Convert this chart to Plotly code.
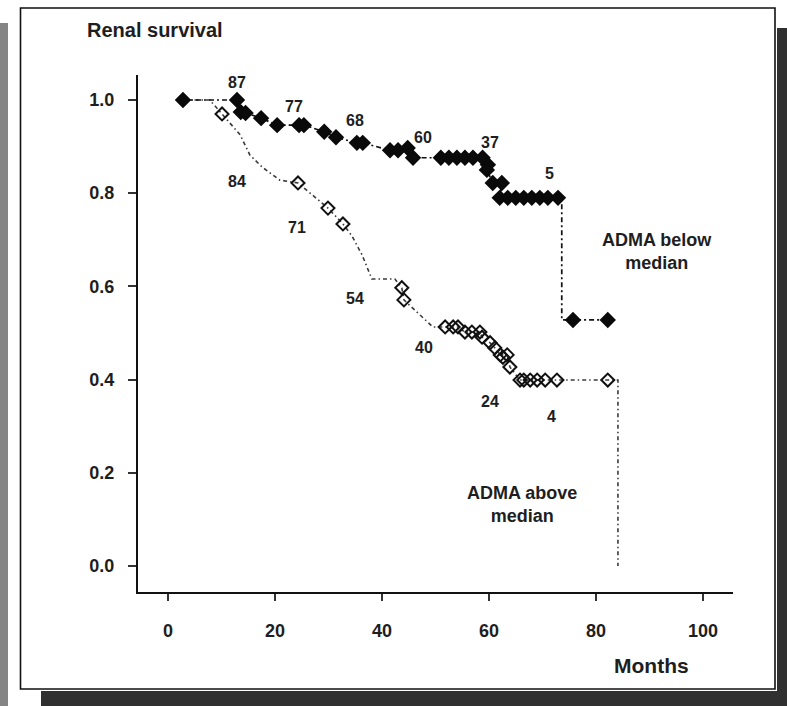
import plotly.graph_objects as go

# ---- Kaplan-Meier style renal survival, split by ADMA median ----
# Curve vertices (months, survival) for the ADMA-below-median group
below_path_months = [2.8, 12.9, 13.6, 14.5, 17.4, 20.4, 24.5, 25.4, 29.2, 31.4, 35.3, 36.4,
                     41.5, 43.0, 44.8, 45.8, 58.8, 59.8, 59.6, 60.7, 62.4, 62.0, 72.9, 73.6,
                     73.6, 75.7, 82.2]
below_path_surv = [1.0, 1.0, 0.974, 0.972, 0.961, 0.946, 0.946, 0.946, 0.932, 0.92, 0.908, 0.908,
                   0.892, 0.892, 0.897, 0.876, 0.876, 0.861, 0.85, 0.822, 0.822, 0.79, 0.79, 0.79,
                   0.528, 0.528, 0.528]

# Marked observations, ADMA below median
below_mark_months = [2.8, 12.9, 13.6, 14.5, 17.4, 20.4, 24.5, 25.4, 29.2, 31.4, 35.3, 36.4,
                     41.5, 43.0, 44.8, 45.8, 51.0, 52.5, 54.0, 55.5, 57.0, 58.8, 59.8, 59.6,
                     60.7, 62.4, 62.0, 63.5, 65.0, 66.5, 68.0, 69.5, 71.0, 72.9, 75.7, 82.2]
below_mark_surv = [1.0, 1.0, 0.974, 0.972, 0.961, 0.946, 0.946, 0.946, 0.932, 0.92, 0.908, 0.908,
                   0.892, 0.892, 0.897, 0.876, 0.876, 0.876, 0.876, 0.876, 0.876, 0.876, 0.861, 0.85,
                   0.822, 0.822, 0.79, 0.79, 0.79, 0.79, 0.79, 0.79, 0.79, 0.79, 0.528, 0.528]

# Curve vertices for the ADMA-above-median group
above_path_months = [2.8, 7.8, 10.1, 13.5, 15.3, 17.6, 20.9, 24.3, 29.9, 32.7, 34.4, 36.3, 38.1,
                     42.4, 43.7, 44.1, 49.5, 51.8, 54.2, 55.5, 58.3, 58.7, 60.2, 61.1, 62.1,
                     63.4, 63.9, 65.8, 82.2, 84.1, 84.1]
above_path_surv = [1.0, 1.0, 0.97, 0.925, 0.882, 0.856, 0.828, 0.822, 0.768, 0.734, 0.708, 0.667,
                   0.616, 0.616, 0.597, 0.571, 0.513, 0.513, 0.513, 0.502, 0.502, 0.491, 0.479,
                   0.468, 0.453, 0.453, 0.427, 0.399, 0.399, 0.399, 0.0]

# Marked observations, ADMA above median
above_mark_months = [10.1, 24.3, 29.9, 32.7, 43.7, 44.1, 51.8, 53.3, 54.2, 55.5, 56.8, 58.3,
                     58.7, 60.2, 61.1, 62.1, 62.6, 63.4, 63.9, 65.8, 66.5, 67.7, 69.0, 70.5,
                     72.7, 82.2]
above_mark_surv = [0.97, 0.822, 0.768, 0.734, 0.597, 0.571, 0.513, 0.513, 0.513, 0.502, 0.502, 0.502,
                   0.491, 0.479, 0.468, 0.453, 0.448, 0.453, 0.427, 0.399, 0.399, 0.399, 0.399, 0.399,
                   0.399, 0.399]

# Numbers at risk and where they are printed
risk_below = ["87", "77", "68", "60", "37", "5"]
risk_below_x = [12.9, 23.6, 35.0, 47.7, 60.2, 71.4]
risk_below_y = [1.06, 1.009, 0.979, 0.942, 0.931, 0.865]
risk_above = ["84", "71", "54", "40", "24", "4"]
risk_above_x = [12.9, 24.1, 35.0, 47.9, 60.2, 71.6]
risk_above_y = [0.848, 0.749, 0.575, 0.468, 0.352, 0.320]

x_ticks = [0, 20, 40, 60, 80, 100]
y_ticks = [0.0, 0.2, 0.4, 0.6, 0.8, 1.0]

X_RANGE = [-5.607, 105.607]
Y_RANGE = [-0.0558, 1.0536]

W, H = 787, 706
ML, MR, MT, MB = 138, 54, 75, 114
PW, PH = W - ML - MR, H - MT - MB

FONT = "Liberation Sans, Arial, Helvetica, sans-serif"
TXT = "#1e1e1e"


def px(xp):
    return (xp - ML) / PW


def py(yp):
    return (H - MB - yp) / PH


def y_to_paper(v):
    # survival value -> paper fraction, so labels above the axis top stay visible
    return (v - Y_RANGE[0]) / (Y_RANGE[1] - Y_RANGE[0])


fig = go.Figure()

fig.add_trace(go.Scatter(
    x=above_path_months, y=above_path_surv, mode="lines",
    line=dict(color="#3a3a3a", width=1.6, dash="4px,3px,1.5px,3px"),
    hoverinfo="skip", showlegend=False))
fig.add_trace(go.Scatter(
    x=below_path_months, y=below_path_surv, mode="lines",
    line=dict(color="#111111", width=1.7, dash="5px,3px,2px,3px"),
    hoverinfo="skip", showlegend=False))
fig.add_trace(go.Scatter(
    x=above_mark_months, y=above_mark_surv, mode="markers",
    marker=dict(symbol="diamond-open", size=10, color="#111111", line=dict(width=2, color="#111111")),
    name="ADMA above median", showlegend=False))
fig.add_trace(go.Scatter(
    x=below_mark_months, y=below_mark_surv, mode="markers",
    marker=dict(symbol="diamond", size=11, color="#0a0a0a", line=dict(width=1.5, color="#0a0a0a")),
    name="ADMA below median", showlegend=False))

ann = []
for t, x, y in zip(risk_below + risk_above, risk_below_x + risk_above_x, risk_below_y + risk_above_y):
    ann.append(dict(x=x, y=y_to_paper(y), xref="x", yref="paper", text=t, showarrow=False,
                    font=dict(family=FONT, size=16, color=TXT, weight="bold")))

ann.append(dict(x=91.4, y=0.674, xref="x", yref="y", text="ADMA below<br>median",
                showarrow=False, align="center",
                font=dict(family=FONT, size=18, color=TXT, weight="bold")))
ann.append(dict(x=66.2, y=0.131, xref="x", yref="y", text="ADMA above<br>median",
                showarrow=False, align="center",
                font=dict(family=FONT, size=18, color=TXT, weight="bold")))
ann.append(dict(x=px(85), y=py(30), xref="paper", yref="paper", xanchor="left", yanchor="middle",
                text="Renal survival", showarrow=False,
                font=dict(family=FONT, size=20, color=TXT, weight="bold")))
ann.append(dict(x=px(612), y=py(665), xref="paper", yref="paper", xanchor="left", yanchor="middle",
                text="Months", showarrow=False,
                font=dict(family=FONT, size=21, color=TXT, weight="bold")))

shapes = [
    # grey strip at the far left
    dict(type="rect", xref="paper", yref="paper", x0=px(0), x1=px(8), y0=py(23), y1=py(706),
         fillcolor="#858585", line=dict(width=0), layer="below"),
    # drop shadow, right and bottom
    dict(type="rect", xref="paper", yref="paper", x0=px(777), x1=px(787), y0=py(28), y1=py(706),
         fillcolor="#303030", line=dict(width=0), layer="below"),
    dict(type="rect", xref="paper", yref="paper", x0=px(41), x1=px(787), y0=py(691), y1=py(706),
         fillcolor="#303030", line=dict(width=0), layer="below"),
    # frame
    dict(type="rect", xref="paper", yref="paper", x0=px(20.5), x1=px(775), y0=py(8), y1=py(689),
         fillcolor="white", line=dict(width=1.6, color="#111111"), layer="below"),
]

fig.update_layout(
    width=W, height=H,
    margin=dict(l=ML, r=MR, t=MT, b=MB, pad=0),
    paper_bgcolor="white", plot_bgcolor="rgba(0,0,0,0)",
    annotations=ann, shapes=shapes, showlegend=False,
    xaxis=dict(range=X_RANGE, tickvals=x_ticks, ticktext=[str(v) for v in x_ticks],
               showgrid=False, zeroline=False, showline=True, linewidth=2.2, linecolor="#111111",
               ticks="outside", ticklen=7, tickwidth=1.5, tickcolor="#333333",
               ticklabelstandoff=14,
               tickfont=dict(family=FONT, size=18, color=TXT, weight="bold"), fixedrange=True),
    yaxis=dict(range=Y_RANGE, tickvals=y_ticks, ticktext=[f"{v:.1f}" for v in y_ticks],
               showgrid=False, zeroline=False, showline=True, linewidth=2.2, linecolor="#111111",
               ticks="outside", ticklen=8, tickwidth=1.5, tickcolor="#333333",
               ticklabelstandoff=10,
               tickfont=dict(family=FONT, size=18, color=TXT, weight="bold"), fixedrange=True),
)

fig.write_html("out.html")
